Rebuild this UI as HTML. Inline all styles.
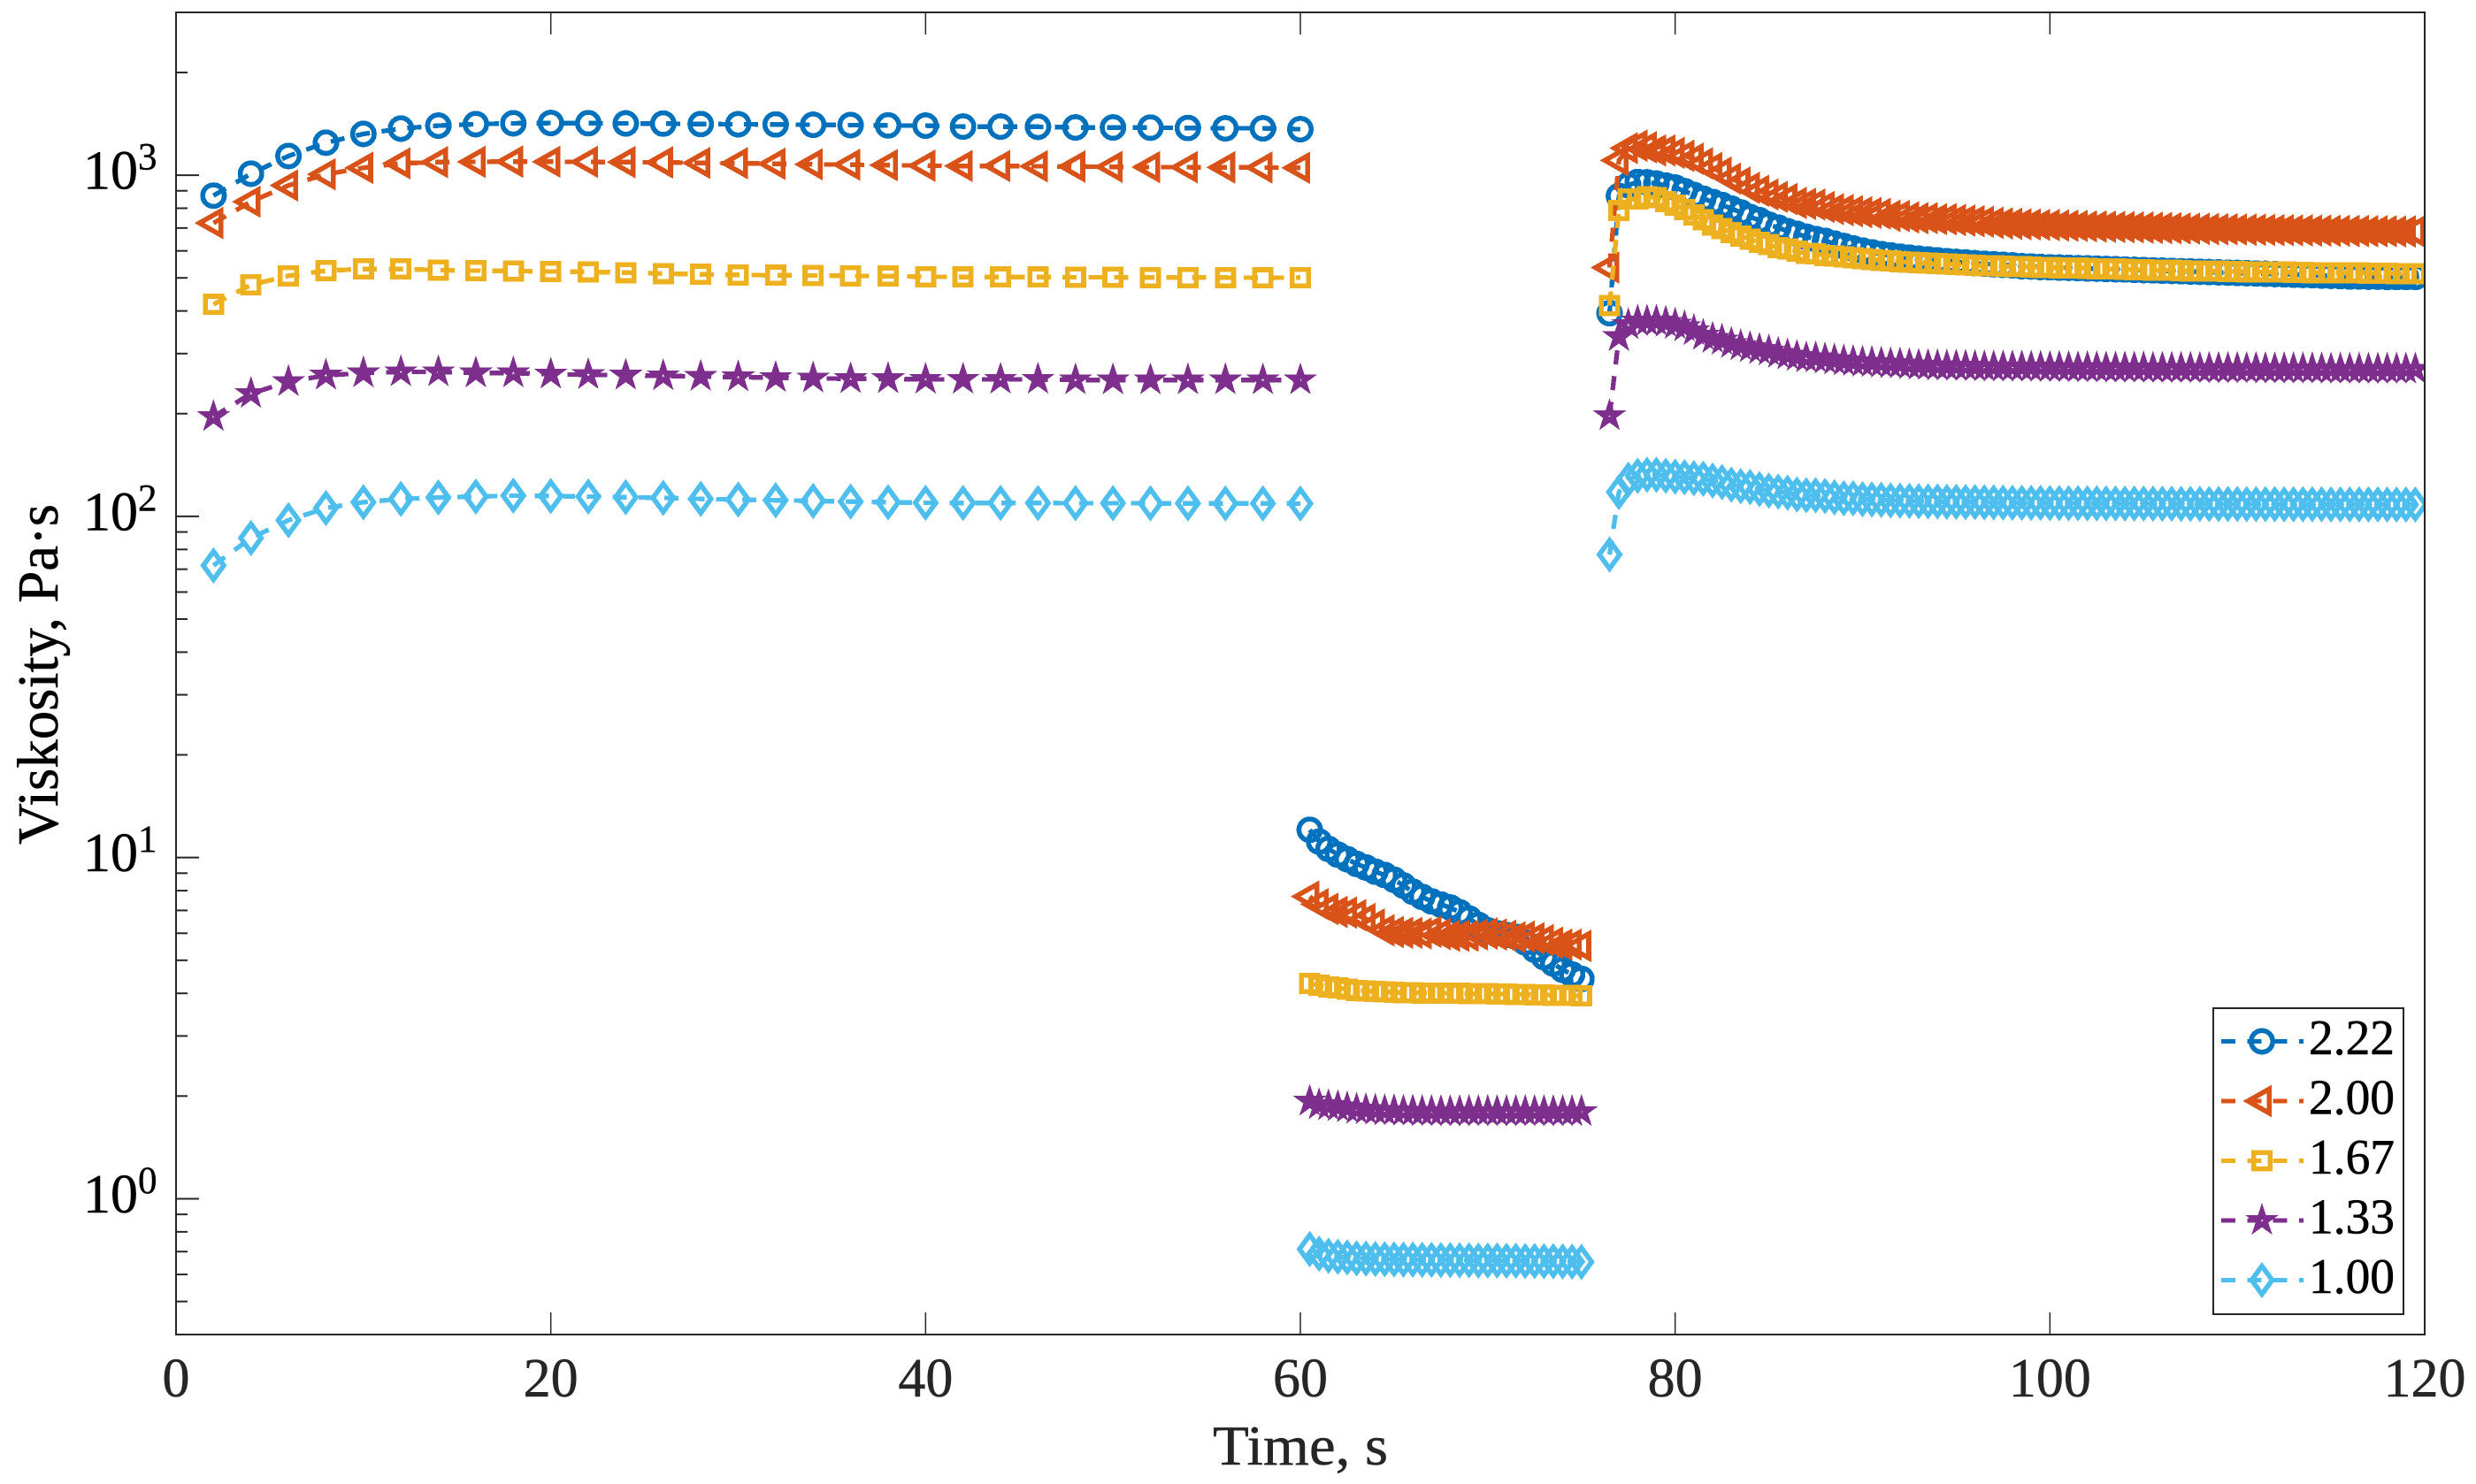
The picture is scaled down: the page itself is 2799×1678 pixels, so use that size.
<!DOCTYPE html>
<html>
<head>
<meta charset="utf-8">
<title>Viskosity vs Time</title>
<style>
html,body{margin:0;padding:0;background:#fff;width:2799px;height:1678px;overflow:hidden}
svg{display:block}
text{font-family:"Liberation Serif",serif}
</style>
</head>
<body>
<svg id="chart" xmlns="http://www.w3.org/2000/svg" width="2799" height="1678" viewBox="0 0 2799 1678">
  <defs><clipPath id="plot-clip"><rect x="199" y="14" width="2542" height="1495"/></clipPath></defs>
  <rect x="0" y="0" width="2799" height="1678" fill="#fff"/>
  <g id="series-layer" clip-path="url(#plot-clip)"></g>
  <g id="axes-layer"></g>
  <text x="1371" y="1656" font-size="64" fill="#262626" stroke="#262626" stroke-width="0.5" textLength="198" lengthAdjust="spacingAndGlyphs">Time, s</text>
  <text transform="translate(65 955) rotate(-90)" x="0" y="0" font-size="66" fill="#000" stroke="#000" stroke-width="0.5" textLength="385" lengthAdjust="spacingAndGlyphs">Viskosity, Pa·s</text>
  <g id="legend">
    <rect x="2502" y="1140" width="215" height="346" fill="#fff" stroke="#262626" stroke-width="2"/>
  </g>
</svg>
<script>
const timeA = [2,4,6,8,10,12,14,16,18,20,22,24,26,28,30,32,34,36,38,40,42,44,46,48,50,52,54,56,58,60];
const timeB = [60.5,61,61.5,62,62.5,63,63.5,64,64.5,65,65.5,66,66.5,67,67.5,68,68.5,69,69.5,70,70.5,71,71.5,72,72.5,73,73.5,74,74.5,75];
const timeC = [76.5,77,77.5,78,78.5,79,79.5,80,80.5,81,81.5,82,82.5,83,83.5,84,84.5,85,85.5,86,86.5,87,87.5,88,88.5,89,89.5,90,90.5,91,91.5,92,92.5,93,93.5,94,94.5,95,95.5,96,96.5,97,97.5,98,98.5,99,99.5,100,100.5,101,101.5,102,102.5,103,103.5,104,104.5,105,105.5,106,106.5,107,107.5,108,108.5,109,109.5,110,110.5,111,111.5,112,112.5,113,113.5,114,114.5,115,115.5,116,116.5,117,117.5,118,118.5,119,119.5];

const rate222A = [871,1010,1138,1245,1321,1369,1397,1411,1419,1422,1420,1418,1416,1412,1410,1408,1405,1402,1399,1397,1388,1388,1386,1380,1380,1378,1375,1372,1372,1364];
const rate222B = [12.06,11.14,10.6,10.2,9.89,9.58,9.35,9.09,8.89,8.61,8.28,7.94,7.67,7.44,7.28,7.14,6.91,6.63,6.35,6.12,6.0,5.93,5.86,5.64,5.37,5.11,4.89,4.69,4.54,4.41];
const rate222C = [394,869,935,955,953,945,932,920,898,875,853,835,818,798,778,754,738,716,702,685,673,660,650,642,630,620,610,601,594,587,582,577,573,569,566,563,560,557,555,552,550,548,546,544,541,540,538,537,536,535,534,533,532,531,530,529,528,527,526,525,524,523,522,521,520,519,518,517,516,515,514,513,512,511,510,509,508,507,506,505,505,504,504,503,503,503,503];

const rate200A = [724,836,933,1006,1051,1083,1092,1094,1096,1095,1094,1092,1090,1086,1084,1080,1076,1073,1070,1066,1064,1064,1062,1060,1058,1056,1055,1054,1053,1051];
const rate200B = [7.69,7.30,7.07,6.93,6.90,6.78,6.61,6.37,6.12,6.05,6.02,6.02,5.99,6.06,5.97,5.90,5.90,5.90,5.95,5.99,5.95,5.90,5.84,5.87,5.80,5.73,5.63,5.56,5.56,5.51];
const rate200C = [536,1105,1200,1220,1207,1182,1182,1163,1139,1117,1083,1050,1018,977,951,918,900,878,864,851,829,824,820,807,795,790,784,779,775,771,760,759,752,748,748,743,743,739,736,733,730,725,722,720,718,717,715,714,712,711,710,708,707,706,705,704,703,702,701,700,699,698,697,696,695,694,694,693,692,692,691,690,690,689,689,688,688,687,687,686,686,685,685,685,684,684,684];

const rate167A = [418,477,507,525,531,531,527,525,524,522,521,518,515,512,510,509,508,507,506,504,503,503,503,502,502,501,501,501,500,501];
const rate167B = [4.28,4.22,4.18,4.15,4.11,4.08,4.07,4.05,4.04,4.03,4.02,4.02,4.01,4.01,4.01,4.00,4.00,3.99,3.99,3.99,3.98,3.98,3.97,3.97,3.96,3.96,3.95,3.94,3.94,3.93];
const rate167C = [415,787,851,851,864,860,837,817,793,765,740,715,697,679,663,649,635,626,613,607,598,590,588,582,580,576,572,569,566,563,561,558,556,554,552,550,549,547,546,544,543,542,541,540,539,538,537,536,535,535,534,533,532,531,531,530,529,528,527,527,526,525,524,524,523,523,522,522,521,521,520,520,520,519,519,518,518,518,517,517,517,516,516,516,515,515,515];

const rate133A = [196,229,248,259,263,265,265,263,263,261,260,259,258,257,256,255,254,253,253,252,252,252,252,251,251,251,251,251,251,251];
const rate133B = [1.93,1.886,1.873,1.86,1.845,1.828,1.822,1.815,1.81,1.81,1.805,1.805,1.80,1.80,1.80,1.80,1.80,1.80,1.80,1.80,1.80,1.80,1.80,1.80,1.80,1.80,1.80,1.80,1.80,1.80];
const rate133C = [197,336,364,373,373,373,370,365,359,350,339,332,328,321,316,312,308,305,300,297,294,291,291,289,287,285,284,282.5,282,281,280,279.5,278,277,276.5,276,275.5,275.5,275,274.5,274,274,274,274,274,273.5,273.5,273,273,273,272.5,272.5,272.5,272,272,272,272,272,271.5,271.5,271.5,271.5,271.5,271,271,271,271,271,271,271,270.5,270.5,270.5,270.5,270.5,270.5,270.5,270,270,270,270,270,270,270,270,270,270];

const rate100A = [71.8,86.4,97.4,105.8,110,112.5,113.6,114.3,115,114.7,114.3,113.8,113.3,112.5,112,111.5,111,110.5,110,109.6,109.5,109.5,109.4,109.3,109.3,109.2,109.2,109.1,109.1,109];
const rate100B = [0.712,0.69,0.681,0.676,0.673,0.669,0.668,0.666,0.665,0.664,0.663,0.663,0.662,0.662,0.661,0.661,0.66,0.66,0.659,0.659,0.659,0.658,0.658,0.657,0.657,0.656,0.656,0.655,0.654,0.653];
const rate100C = [77.3,117.8,128,131.5,132.4,132.4,131.5,130.7,130.2,129.4,128.9,127.3,126,123.8,122.6,121.9,120.2,119,118.2,117.3,115.9,115.3,115.3,114.7,113.7,113,113,112.2,112,111.8,111.4,111.2,111,110.8,110.6,110.6,110.3,110.3,110.1,110.1,109.9,109.9,109.7,109.6,109.6,109.5,109.5,109.4,109.4,109.3,109.3,109.2,109.2,109.1,109.1,109,109,109,108.9,108.9,108.9,108.8,108.8,108.8,108.7,108.7,108.7,108.7,108.6,108.6,108.6,108.6,108.5,108.5,108.5,108.5,108.5,108.4,108.4,108.4,108.4,108.4,108.4,108.3,108.3,108.3,108.3];

const xTickValues = [0,20,40,60,80,100,120];
const xTickLabels = ['0','20','40','60','80','100','120'];
const yMajorValues = [1,10,100,1000];
const yMajorExponents = ['0','1','2','3'];
const yMinorValues = [0.4,0.5,0.6,0.7,0.8,0.9,2,3,4,5,6,7,8,9,20,30,40,50,60,70,80,90,200,300,400,500,600,700,800,900,2000,3000];
const legendLabels = ['2.22','2.00','1.67','1.33','1.00'];

const SVGNS = 'http://www.w3.org/2000/svg';
const plot = {left:199,right:2741,top:14,bottom:1509,xMin:0,xMax:120,yMin:0.4,yMax:3000};
function xScale(t){return plot.left+(t-plot.xMin)/(plot.xMax-plot.xMin)*(plot.right-plot.left);}
function yScale(v){return plot.bottom-(Math.log10(v)-Math.log10(plot.yMin))/(Math.log10(plot.yMax)-Math.log10(plot.yMin))*(plot.bottom-plot.top);}
function make(tag,attrs,parent){const el=document.createElementNS(SVGNS,tag);for(const k in attrs){el.setAttribute(k,attrs[k]);}parent.appendChild(el);return el;}

const markerPaths = {
  triangle:'M-15.9 0L8.2 -13.6L8.2 13.6Z',
  square:'M-9.2 -9.2L9.2 -9.2L9.2 9.2L-9.2 9.2Z',
  star:'M0 -11L2.47 -3.4L10.46 -3.4L4 1.3L6.47 8.9L0 4.2L-6.47 8.9L-4 1.3L-10.46 -3.4L-2.47 -3.4Z',
  diamond:'M-11.6 0L0 -15.9L11.6 0L0 15.9Z',
  circle:'M-12.2 0A12.2 12.2 0 1 1 12.2 0A12.2 12.2 0 1 1 -12.2 0Z'
};
function drawMarker(parent,kind,color,px,py){
  const m=make('path',{d:markerPaths[kind],transform:'translate('+px.toFixed(2)+' '+py.toFixed(2)+')',fill:'none',stroke:color,'stroke-width':5.6,'stroke-miterlimit':10,'stroke-linejoin':'miter','shape-rendering':'crispEdges'},parent);
  
  
  return m;
}
function drawDashed(parent,color,pts){
  const l=make('polyline',{points:pts,fill:'none',stroke:color,'stroke-width':5.3,'stroke-dasharray':'16 13.3','stroke-linecap':'butt','stroke-linejoin':'round','shape-rendering':'crispEdges'},parent);
  
  
  return l;
}

const seriesList = [
  {slug:'series-2-22',color:'#0072BD',marker:'circle',parts:[[timeA,rate222A],[timeB,rate222B],[timeC,rate222C]]},
  {slug:'series-2-00',color:'#D95319',marker:'triangle',parts:[[timeA,rate200A],[timeB,rate200B],[timeC,rate200C]]},
  {slug:'series-1-67',color:'#EDB120',marker:'square',parts:[[timeA,rate167A],[timeB,rate167B],[timeC,rate167C]]},
  {slug:'series-1-33',color:'#7E2F8E',marker:'star',parts:[[timeA,rate133A],[timeB,rate133B],[timeC,rate133C]]},
  {slug:'series-1-00',color:'#4DBEEE',marker:'diamond',parts:[[timeA,rate100A],[timeB,rate100B],[timeC,rate100C]]}
];

const seriesLayer=document.getElementById('series-layer');
seriesList.forEach(function(s){
  const g=make('g',{},seriesLayer);
  
  
  s.parts.forEach(function(part){
    const ts=part[0],vs=part[1];
    const pts=ts.map(function(t,i){return xScale(t).toFixed(2)+','+yScale(vs[i]).toFixed(2);}).join(' ');
    drawDashed(g,s.color,pts);
    ts.forEach(function(t,i){drawMarker(g,s.marker,s.color,xScale(t),yScale(vs[i]));});
  });
});

const axes=document.getElementById('axes-layer');
function axisLine(name,x1,y1,x2,y2,w){
  const l=make('line',{x1:x1,y1:y1,x2:x2,y2:y2,stroke:'#262626','stroke-width':w},axes);
  
  
  return l;
}
axisLine('axis-top',plot.left-1,plot.top,plot.right+1,plot.top,2);
axisLine('axis-bottom',plot.left-1,plot.bottom,plot.right+1,plot.bottom,2);
axisLine('axis-left',plot.left,plot.top,plot.left,plot.bottom,2);
axisLine('axis-right',plot.right,plot.top,plot.right,plot.bottom,2);

xTickValues.forEach(function(v,i){
  const x=xScale(v);
  axisLine('x-tick-bottom',x,plot.bottom,x,plot.bottom-25,1.5);
  axisLine('x-tick-top',x,plot.top,x,plot.top+25,1.5);
  const t=make('text',{x:x,y:1579,'font-size':62,'text-anchor':'middle',fill:'#262626',stroke:'#262626','stroke-width':0.5},axes);
  
  
  t.textContent=xTickLabels[i];
});
yMinorValues.forEach(function(v){
  const y=yScale(v);
  axisLine('y-minor-tick',plot.left,y,plot.left+13,y,2);
});
yMajorValues.forEach(function(v,i){
  const y=yScale(v);
  axisLine('y-major-tick',plot.left,y,plot.left+26,y,2);
  const t=make('text',{x:94,y:y+15.5,'font-size':62,fill:'#000',stroke:'#000','stroke-width':0.5},axes);
  
  
  t.textContent='10';
  const e=make('text',{x:156,y:y-6.5,'font-size':43,fill:'#000',stroke:'#000','stroke-width':0.4},axes);
  
  
  e.textContent=yMajorExponents[i];
});

const legend=document.getElementById('legend');
const legendRowTop=1177.5, legendRowStep=67.5;
seriesList.forEach(function(s,i){
  const y=legendRowTop+legendRowStep*i;
  const g=make('g',{},legend);
  
  
  drawDashed(g,s.color,'2511,'+y+' 2604,'+y);
  drawMarker(g,s.marker,s.color,2557,y);
  const t=make('text',{x:2610,y:y+14.5,'font-size':56,fill:'#000',stroke:'#000','stroke-width':0.6,textLength:97,lengthAdjust:'spacingAndGlyphs'},g);
  
  
  t.textContent=legendLabels[i];
});
</script>
</body>
</html>
